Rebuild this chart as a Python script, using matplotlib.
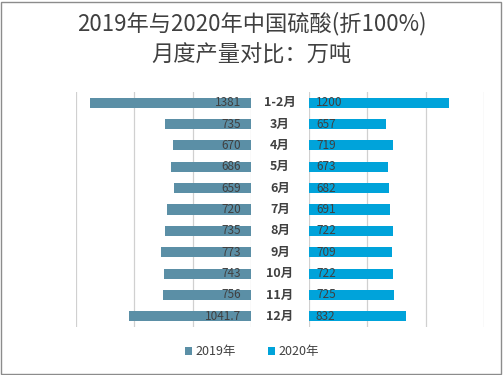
"""Monthly sulfuric acid output, 2019 vs 2020, back-to-back bars."""

import matplotlib

matplotlib.use("Agg")
import matplotlib.pyplot as plt
from matplotlib.patches import Rectangle
import numpy as np

plt.rcParams["font.family"] = ["Noto Sans CJK SC", "DejaVu Sans"]

months = ["1-2月", "3月", "4月", "5月", "6月", "7月", "8月", "9月", "10月", "11月", "12月"]
vals_2019 = [1381, 735, 670, 686, 659, 720, 735, 773, 743, 756, 1041.7]
vals_2020 = [1200, 657, 719, 673, 682, 691, 722, 709, 722, 725, 832]
labels_2019 = ["1381", "735", "670", "686", "659", "720", "735", "773", "743", "756", "1041.7"]
labels_2020 = ["1200", "657", "719", "673", "682", "691", "722", "709", "722", "725", "832"]

c19 = "#5b8fa6"
c20 = "#00a3da"
txt = "#404040"
grid = "#d0d0d0"

W, H = 503, 375
fig = plt.figure(figsize=(W / 100, H / 100), dpi=100)
fig.patches.append(Rectangle((1 / W, 1 / H), 1 - 3 / W, 1 - 3 / H, transform=fig.transFigure,
                             fill=False, edgecolor="#8c8c8c", lw=1.0))

y = np.arange(len(months))
bot, top = (H - 327) / H, (H - 92) / H
ax_l = fig.add_axes([76 / W, bot, 175 / W, top - bot])
ax_r = fig.add_axes([309 / W, bot, 175 / W, top - bot])

for ax in (ax_l, ax_r):
    ax.set_xlim(0, 1500)
    ax.set_ylim(len(months) - 0.5, -0.5)
    ax.set_xticks([0, 500, 1000, 1500])
    ax.grid(True, axis="x", color=grid, lw=0.9)
    ax.set_axisbelow(True)
    ax.tick_params(left=False, bottom=False, labelleft=False, labelbottom=False)
    for s in ax.spines.values():
        s.set_visible(False)

ax_l.invert_xaxis()
ax_l.barh(y, vals_2019, height=0.47, color=c19, label="2019年")
ax_r.barh(y, vals_2020, height=0.47, color=c20, label="2020年")

for i in y:
    ax_l.text(85, i, labels_2019[i], ha="right", va="center", fontsize=8.5, color=txt)
    ax_r.text(60, i, labels_2020[i], ha="left", va="center", fontsize=8.5, color=txt)
    fig.text(280 / W, ax_l.transData.transform((0, i))[1] / H, months[i], ha="center",
             va="center", fontsize=9, fontweight="bold", color=txt)

fig.text(0.5, (H - 24) / H, "2019年与2020年中国硫酸(折100%)", ha="center", va="center",
         fontsize=16, color=txt)
fig.text(0.5, (H - 55) / H, "月度产量对比：万吨", ha="center", va="center",
         fontsize=16, color=txt)

h1, l1 = ax_l.get_legend_handles_labels()
h2, l2 = ax_r.get_legend_handles_labels()
fig.legend(h1 + h2, l1 + l2, loc="center", bbox_to_anchor=(252 / W, (H - 352) / H), ncol=2,
           frameon=False, fontsize=9, handlelength=0.6, handleheight=0.6, handletextpad=0.3,
           columnspacing=2.5, labelcolor=txt)

fig.savefig("out.png", dpi=100)
